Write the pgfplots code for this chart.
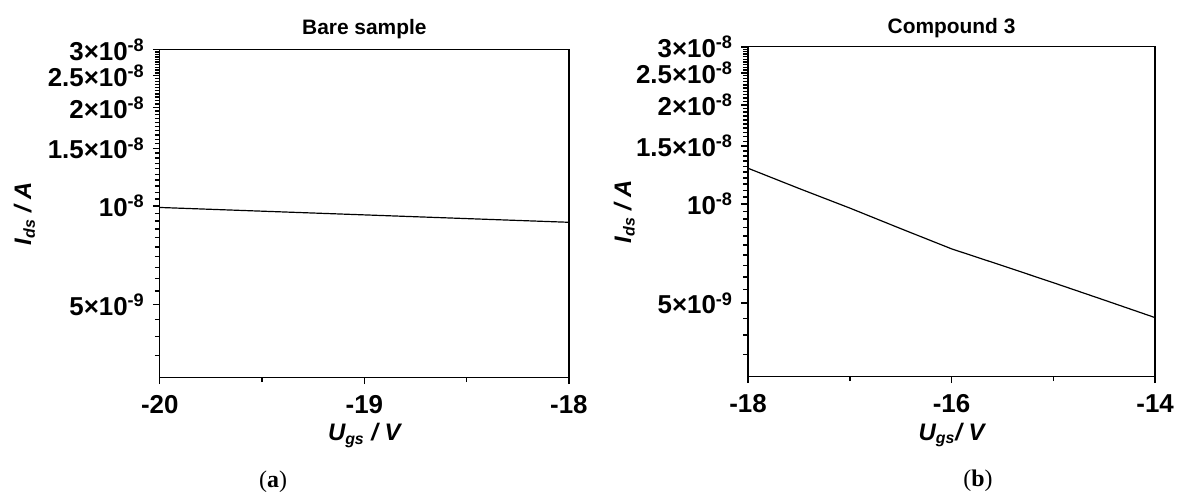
\documentclass[border=0pt]{standalone}
\usepackage{pgfplots}
\pgfplotsset{compat=1.18}
\usepackage{fontspec}
\setmainfont{Liberation Sans}
\newfontfamily\capfont{Liberation Serif}
\begin{document}
\pgfplotsset{
  every axis/.append style={
    scale only axis,
    clip=false,
    axis x line*=bottom, axis y line*=left,
    axis line style={line width=0.65pt, -},
    tick style={line width=0.7pt, black},
    tick align=outside,
    major tick length=3.5pt,
    minor tick length=2.5pt,
    ticklabel style={font=\fontsize{13}{15}\selectfont\bfseries},
    xticklabel style={yshift=-2pt},
    yticklabel style={xshift=-0.5pt},
    title style={font=\fontsize{10.5}{12}\selectfont\bfseries},
    label style={font=\fontsize{12}{14}\selectfont\bfseries\itshape},
  },
}
\begin{tikzpicture}
\useasboundingbox (0,0) rectangle (589pt,247pt);
\begin{axis}[
  at={(77.5pt,57.5pt)}, anchor=south west,
  width=205.5pt, height=164.5pt,
  ymode=log, ymin=3e-9, ymax=3e-8,
  ytick={5e-9,1e-8,1.5e-8,2e-8,2.5e-8,3e-8},
  yticklabels={5{\texttimes}10\textsuperscript{-9},10\textsuperscript{-8},1.5{\texttimes}10\textsuperscript{-8},2{\texttimes}10\textsuperscript{-8},2.5{\texttimes}10\textsuperscript{-8},3{\texttimes}10\textsuperscript{-8}},
  minor ytick={3.5e-9,4e-9,4.5e-9,5.5e-9,6e-9,6.5e-9,7e-9,7.5e-9,8e-9,8.5e-9,9e-9,9.5e-9,1.05e-8,1.1e-8,1.15e-8,1.2e-8,1.25e-8,1.3e-8,1.35e-8,1.4e-8,1.45e-8,1.55e-8,1.6e-8,1.65e-8,1.7e-8,1.75e-8,1.8e-8,1.85e-8,1.9e-8,1.95e-8,2.05e-8,2.1e-8,2.15e-8,2.2e-8,2.25e-8,2.3e-8,2.35e-8,2.4e-8,2.45e-8,2.55e-8,2.6e-8,2.65e-8,2.7e-8,2.75e-8,2.8e-8,2.85e-8,2.9e-8,2.95e-8},
  xmin=-20, xmax=-18,
  xtick={-20,-19,-18},
  xticklabels={-20,-19,-18},
  minor xtick={-19.5,-18.5},
  title={Bare sample},
  title style={at={(axis description cs:0.5,1.028)}, anchor=center},
  xlabel={U\textsubscript{gs} / V},
  ylabel={I\textsubscript{ds} / A},
  xlabel style={at={(axis description cs:0.5,-0.178)}, anchor=center},
  ylabel style={at={(axis description cs:-0.331,0.5)}, anchor=center},
]
\addplot[black, line width=0.6pt, mark=none] coordinates {(-20,9.9e-9) (-19.5,9.645e-9) (-19,9.397e-9) (-18.5,9.155e-9) (-18,8.92e-9)};
\draw[line width=0.65pt] (rel axis cs:0,1) -- (rel axis cs:1,1) -- (rel axis cs:1,0);
\node[font=\capfont\fontsize{12}{14}\selectfont] at (axis description cs:0.277,-0.319) {(\textbf{a})};
\end{axis}
\begin{axis}[
  at={(373pt,58pt)}, anchor=south west,
  width=204.5pt, height=165.5pt,
  ymode=log, ymin=3e-9, ymax=3e-8,
  ytick={5e-9,1e-8,1.5e-8,2e-8,2.5e-8,3e-8},
  yticklabels={5{\texttimes}10\textsuperscript{-9},10\textsuperscript{-8},1.5{\texttimes}10\textsuperscript{-8},2{\texttimes}10\textsuperscript{-8},2.5{\texttimes}10\textsuperscript{-8},3{\texttimes}10\textsuperscript{-8}},
  minor ytick={3.5e-9,4e-9,4.5e-9,5.5e-9,6e-9,6.5e-9,7e-9,7.5e-9,8e-9,8.5e-9,9e-9,9.5e-9,1.05e-8,1.1e-8,1.15e-8,1.2e-8,1.25e-8,1.3e-8,1.35e-8,1.4e-8,1.45e-8,1.55e-8,1.6e-8,1.65e-8,1.7e-8,1.75e-8,1.8e-8,1.85e-8,1.9e-8,1.95e-8,2.05e-8,2.1e-8,2.15e-8,2.2e-8,2.25e-8,2.3e-8,2.35e-8,2.4e-8,2.45e-8,2.55e-8,2.6e-8,2.65e-8,2.7e-8,2.75e-8,2.8e-8,2.85e-8,2.9e-8,2.95e-8},
  xmin=-18, xmax=-14,
  xtick={-18,-16,-14},
  xticklabels={-18,-16,-14},
  minor xtick={-17,-15},
  title={Compound 3},
  title style={at={(axis description cs:0.5,1.022)}, anchor=center},
  xlabel={U\textsubscript{gs}/ V},
  ylabel={I\textsubscript{ds} / A},
  xlabel style={at={(axis description cs:0.5,-0.178)}, anchor=center},
  ylabel style={at={(axis description cs:-0.304,0.5)}, anchor=center},
]
\addplot[black, line width=0.6pt, mark=none] coordinates {(-18,1.284e-8) (-17.5,1.115e-8) (-17,9.72e-9) (-16.5,8.42e-9) (-16,7.31e-9) (-15.5,6.5e-9) (-15,5.77e-9) (-14.5,5.11e-9) (-14,4.52e-9)};
\draw[line width=0.65pt] (rel axis cs:0,1) -- (rel axis cs:1,1) -- (rel axis cs:1,0);
\node[font=\capfont\fontsize{12}{14}\selectfont] at (axis description cs:0.565,-0.318) {(\textbf{b})};
\end{axis}
\end{tikzpicture}
\end{document}
